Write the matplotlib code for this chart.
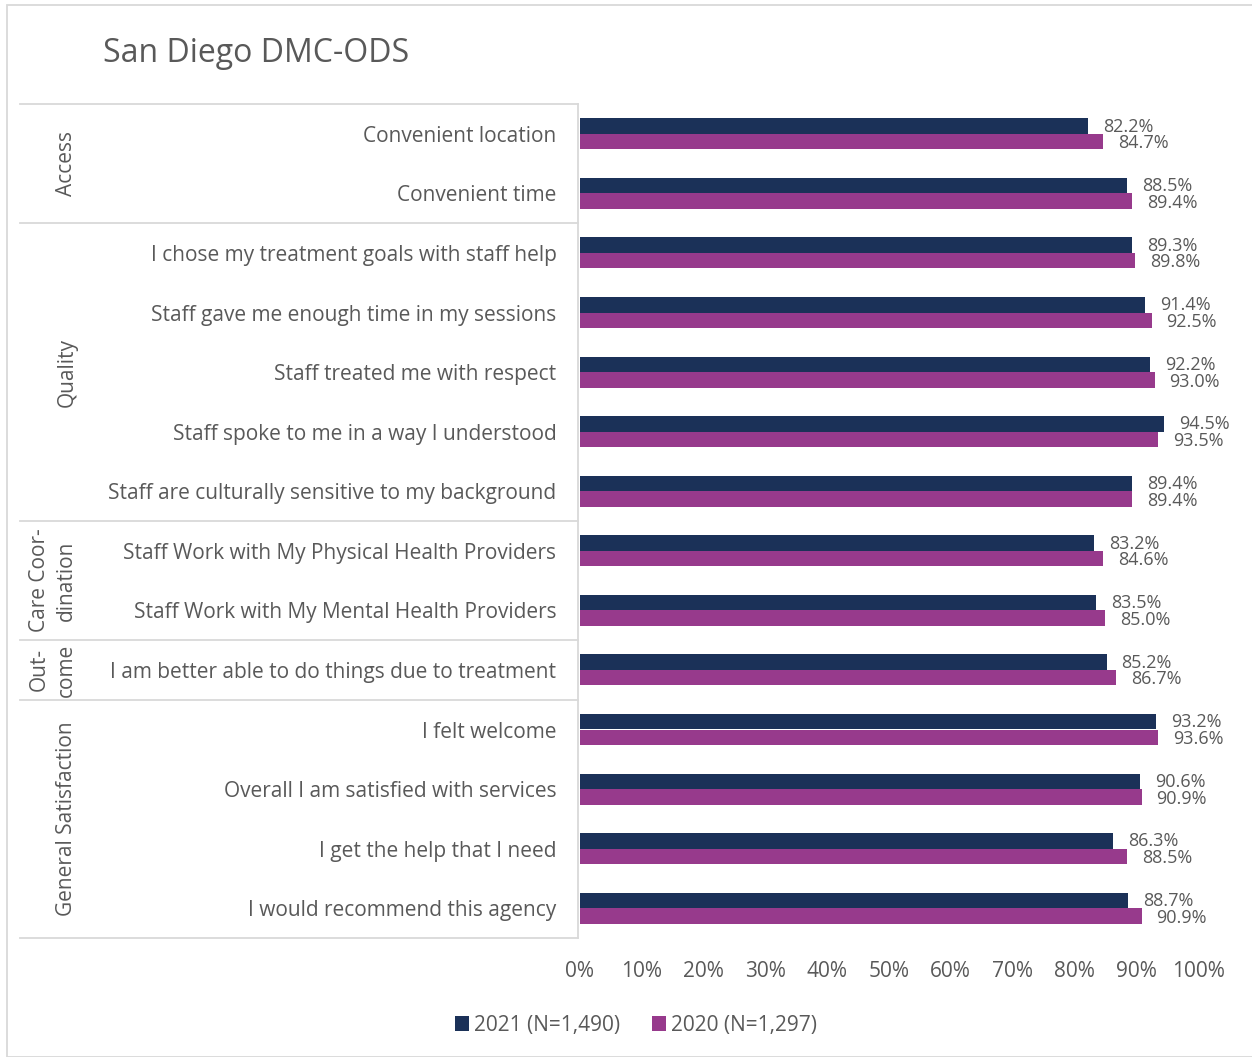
import matplotlib.pyplot as plt
import matplotlib.transforms as mtransforms
from matplotlib.patches import Rectangle
import numpy as np

plt.rcParams['font.family'] = ['Open Sans', 'DejaVu Sans']

items = ['Convenient location', 'Convenient time',
         'I chose my treatment goals with staff help',
         'Staff gave me enough time in my sessions',
         'Staff treated me with respect',
         'Staff spoke to me in a way I understood',
         'Staff are culturally sensitive to my background',
         'Staff Work with My Physical Health Providers',
         'Staff Work with My Mental Health Providers',
         'I am better able to do things due to treatment',
         'I felt welcome', 'Overall I am satisfied with services',
         'I get the help that I need', 'I would recommend this agency']
vals_2021 = [82.2, 88.5, 89.3, 91.4, 92.2, 94.5, 89.4, 83.2, 83.5, 85.2, 93.2, 90.6, 86.3, 88.7]
vals_2020 = [84.7, 89.4, 89.8, 92.5, 93.0, 93.5, 89.4, 84.6, 85.0, 86.7, 93.6, 90.9, 88.5, 90.9]
groups = ['Access', 'Quality', 'Care Coor-\ndination', 'Out-\ncome', 'General Satisfaction']
group_sizes = [2, 5, 2, 1, 4]
series = ['2021 (N=1,490)', '2020 (N=1,297)']
colors = ['#1b3158', '#973a8c']
grid_col = '#d9d9d9'
txt_col = '#595959'

W, H = 1252, 1057
fig = plt.figure(figsize=(W / 100, H / 100), dpi=100)
ax = fig.add_axes([580 / W, 1 - 938 / H, 618 / W, 834 / H])

y = np.arange(len(items))
bh = 0.26
ax.barh(y - bh / 2, np.array(vals_2021) / 100, height=bh, color=colors[0], label=series[0])
ax.barh(y + bh / 2, np.array(vals_2020) / 100, height=bh, color=colors[1], label=series[1])
for i in range(len(items)):
    ax.text(vals_2021[i] / 100 + 0.024, y[i] - bh / 2 + 0.01, f'{vals_2021[i]:.1f}%', va='center',
            ha='left', fontsize=13, color=txt_col)
    ax.text(vals_2020[i] / 100 + 0.024, y[i] + bh / 2 + 0.03, f'{vals_2020[i]:.1f}%', va='center',
            ha='left', fontsize=13, color=txt_col)

ax.set_xlim(0, 1)
ax.set_ylim(len(items) - 0.5, -0.5)
ax.set_xticks(np.arange(0, 1.01, 0.1))
ax.set_xticklabels([f'{int(round(t * 100))}%' for t in np.arange(0, 1.01, 0.1)])
ax.set_yticks(y)
ax.set_yticklabels(items)
ax.tick_params(axis='both', length=0, labelsize=15, labelcolor=txt_col)
ax.tick_params(axis='y', pad=17)
ax.tick_params(axis='x', pad=16.5)
for s in ax.spines.values():
    s.set_visible(False)

# left table lines
tr = mtransforms.blended_transform_factory(fig.transFigure, ax.transData)
xl, xr = 20 / W, 578 / W
bounds = np.concatenate([[0], np.cumsum(group_sizes)]) - 0.5
for b in bounds:
    ax.plot([xl, xr], [b, b], transform=tr, color=grid_col, lw=1.3, clip_on=False)
ax.plot([xr, xr], [bounds[0], bounds[-1]], transform=tr, color=grid_col, lw=1.3, clip_on=False)
for g, a, b in zip(groups, bounds[:-1], bounds[1:]):
    xg = 67 / W if '\n' not in g else 53 / W
    ax.text(xg, (a + b) / 2, g, transform=tr, rotation=90, ha='center', va='center',
            fontsize=15, color=txt_col, linespacing=1.4)

fig.text(103 / W, 1 - 53 / H, 'San Diego DMC-ODS', fontsize=23, color=txt_col, va='center')
fig.patches.append(Rectangle((7 / W, 0), 1, 1 - 5 / H, transform=fig.transFigure,
                             fill=False, edgecolor=grid_col, lw=1.3))

leg = fig.legend(loc='center', bbox_to_anchor=(636 / W, 1 - 1025 / H), ncol=2, frameon=False,
                 fontsize=15, handlelength=0.7, handleheight=0.7, handletextpad=0.25,
                 columnspacing=1.5, labelcolor=txt_col)

fig.savefig('out.png', dpi=100)
